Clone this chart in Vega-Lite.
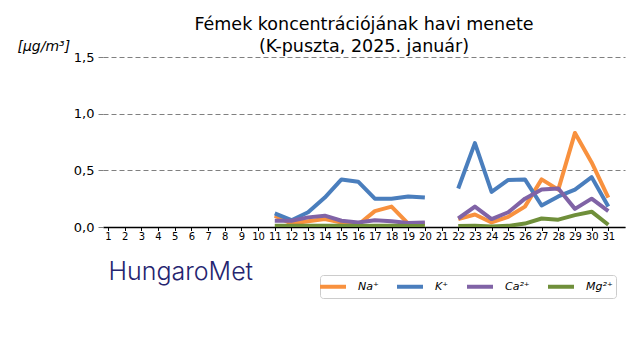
{
  "$schema": "https://vega.github.io/schema/vega-lite/v6.json",
  "autosize": {"type": "none"},
  "padding": {"left": 103, "top": 57, "right": 15, "bottom": 133},
  "width": 522,
  "height": 170,
  "background": "white",
  "config": {"view": {"stroke": null}, "font": "DejaVu Sans"},
  "title": {
    "text": ["Fémek koncentrációjának havi menete", "(K-puszta, 2025. január)"],
    "font": "DejaVu Sans",
    "fontSize": 17.5,
    "fontWeight": "normal",
    "color": "black",
    "anchor": "middle",
    "lineHeight": 22,
    "offset": -16
  },
  "data": {
    "values": [
      {"day": 11, "seg": 1, "Na": 0.10, "K": 0.12, "Ca": 0.055, "Mg": 0.01},
      {"day": 12, "seg": 1, "Na": 0.03, "K": 0.06, "Ca": 0.055, "Mg": 0.01},
      {"day": 13, "seg": 1, "Na": 0.05, "K": 0.13, "Ca": 0.085, "Mg": 0.01},
      {"day": 14, "seg": 1, "Na": 0.07, "K": 0.26, "Ca": 0.10, "Mg": 0.012},
      {"day": 15, "seg": 1, "Na": 0.04, "K": 0.42, "Ca": 0.055, "Mg": 0.01},
      {"day": 16, "seg": 1, "Na": 0.02, "K": 0.40, "Ca": 0.04, "Mg": 0.008},
      {"day": 17, "seg": 1, "Na": 0.14, "K": 0.25, "Ca": 0.06, "Mg": 0.01},
      {"day": 18, "seg": 1, "Na": 0.18, "K": 0.25, "Ca": 0.05, "Mg": 0.01},
      {"day": 19, "seg": 1, "Na": 0.03, "K": 0.27, "Ca": 0.035, "Mg": 0.008},
      {"day": 20, "seg": 1, "Na": 0.03, "K": 0.26, "Ca": 0.04, "Mg": 0.008},
      {"day": 22, "seg": 2, "Na": 0.07, "K": 0.34, "Ca": 0.075, "Mg": 0.008},
      {"day": 23, "seg": 2, "Na": 0.11, "K": 0.74, "Ca": 0.18, "Mg": 0.01},
      {"day": 24, "seg": 2, "Na": 0.04, "K": 0.31, "Ca": 0.07, "Mg": 0.005},
      {"day": 25, "seg": 2, "Na": 0.09, "K": 0.415, "Ca": 0.13, "Mg": 0.01},
      {"day": 26, "seg": 2, "Na": 0.18, "K": 0.42, "Ca": 0.25, "Mg": 0.03},
      {"day": 27, "seg": 2, "Na": 0.42, "K": 0.19, "Ca": 0.33, "Mg": 0.075},
      {"day": 28, "seg": 2, "Na": 0.33, "K": 0.27, "Ca": 0.34, "Mg": 0.065},
      {"day": 29, "seg": 2, "Na": 0.83, "K": 0.33, "Ca": 0.16, "Mg": 0.105},
      {"day": 30, "seg": 2, "Na": 0.57, "K": 0.44, "Ca": 0.25, "Mg": 0.135},
      {"day": 31, "seg": 2, "Na": 0.26, "K": 0.18, "Ca": 0.14, "Mg": 0.02}
    ]
  },
  "transform": [{"fold": ["Na", "K", "Ca", "Mg"], "as": ["ion", "value"]}],
  "mark": {"type": "line", "strokeWidth": 4, "strokeJoin": "round", "clip": true},
  "encoding": {
    "x": {
      "field": "day",
      "type": "quantitative",
      "scale": {"domain": [0.7, 32], "nice": false, "zero": false},
      "axis": {
        "values": [1,2,3,4,5,6,7,8,9,10,11,12,13,14,15,16,17,18,19,20,21,22,23,24,25,26,27,28,29,30,31],
        "format": "d",
        "grid": false,
        "domainColor": "black",
        "domainWidth": 1.3,
        "tickColor": "black",
        "tickSize": 3.5,
        "tickWidth": 1,
        "labelFontSize": 10,
        "labelColor": "black",
        "labelPadding": 1,
        "labelFlush": false,
        "labelOverlap": false,
        "title": "HungaroMet",
        "titleFont": "Inter",
        "titleFontWeight": 300,
        "titleFontSize": 25,
        "titleColor": "#25246f",
        "titleAlign": "left",
        "titleAnchor": null,
        "titleBaseline": "middle",
        "titleX": 5,
        "titleY": 44
      }
    },
    "y": {
      "field": "value",
      "type": "quantitative",
      "scale": {"domain": [0, 1.5], "nice": false},
      "axis": {
        "values": [0, 0.5, 1.0, 1.5],
        "labelExpr": "replace(format(datum.value, '.1f'), '.', ',')",
        "domain": false,
        "grid": true,
        "gridColor": "#808080",
        "gridDash": [5, 3],
        "gridWidth": 1,
        "tickColor": "#808080",
        "tickDash": [5, 3],
        "tickSize": 6,
        "labelFontSize": 13,
        "labelColor": "black",
        "labelPadding": 3,
        "title": "[μg/m³]",
        "titleFontStyle": "italic",
        "titleFontWeight": "normal",
        "titleFontSize": 14,
        "titleColor": "black",
        "titleAngle": 0,
        "titleAlign": "left",
        "titleBaseline": "middle",
        "titleX": -86,
        "titleY": -11
      }
    },
    "color": {
      "field": "ion",
      "type": "nominal",
      "scale": {"domain": ["Na", "K", "Ca", "Mg"], "range": ["#f8913e", "#4a7ebd", "#8063a6", "#6f8f3a"]},
      "legend": {
        "title": null,
        "orient": "none",
        "legendX": 217,
        "legendY": 218,
        "direction": "horizontal",
        "columns": 4,
        "columnPadding": 9,
        "symbolType": "M-1.77,0H2.23",
        "symbolSize": 169,
        "symbolStrokeWidth": 4,
        "symbolFillColor": "transparent",
        "labelOffset": 18,
        "labelFontSize": 11,
        "labelFontStyle": "italic",
        "labelColor": "black",
        "labelExpr": "datum.label == 'Na' ? 'Na⁺' : datum.label == 'K' ? 'K⁺' : datum.label == 'Ca' ? 'Ca²⁺' : 'Mg²⁺'",
        "strokeColor": "#cccccc",
        "cornerRadius": 3,
        "padding": 3,
        "fillColor": "white"
      }
    },
    "detail": {"field": "seg", "type": "nominal"},
    "order": {"field": "day", "type": "quantitative"}
  }
}
